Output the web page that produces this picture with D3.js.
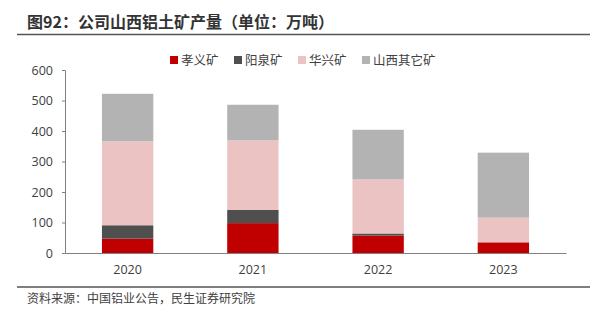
<!DOCTYPE html>
<html><head><meta charset="utf-8">
<script src="https://cdn.jsdelivr.net/npm/d3@7"></script>
<style>body{margin:0;background:#fff;}svg{display:block;font-family:"Noto Sans CJK SC","Noto Sans",sans-serif;}</style>
</head><body><div id="chart"></div>
<script>
const years = ["2020","2021","2022","2023"];
const seriesNames = ["孝义矿","阳泉矿","华兴矿","山西其它矿"];
const xiaoyi = [47, 98, 57, 35];
const yangquan = [44, 43, 7, 0];
const huaxing = [275, 228, 177, 81];
const others = [156, 117, 163, 213];
const yTicks = [0,100,200,300,400,500,600];
const colors = ["#C00000","#4F4F4F","#ECC3C3","#B3B3B3"];

const W=601,H=325;
const svg=d3.select("#chart").append("svg").attr("width",W).attr("height",H);
const x=d3.scaleBand().domain(years).range([65,566]).paddingInner(0.59).paddingOuter(0.295);
const y=d3.scaleLinear().domain([0,600]).range([253,70]);

// title
svg.append("text").attr("x",27).attr("y",28).attr("font-size",16).attr("font-weight","bold").attr("fill","#333")
  .text("图92：公司山西铝土矿产量（单位：万吨）");
svg.append("line").attr("x1",17).attr("x2",590).attr("y1",34.5).attr("y2",34.5).attr("stroke","#555").attr("stroke-width",1.3);

const table = years.map((yr,i)=>({year:yr,"孝义矿":xiaoyi[i],"阳泉矿":yangquan[i],"华兴矿":huaxing[i],"山西其它矿":others[i]}));
const stack=d3.stack().keys(seriesNames)(table);
svg.append("g").selectAll("g").data(stack).join("g").attr("fill",(d,i)=>colors[i])
  .selectAll("rect").data(d=>d).join("rect")
  .attr("x",d=>x(d.data.year)).attr("width",x.bandwidth())
  .attr("y",d=>y(d[1])).attr("height",d=>y(d[0])-y(d[1]));

// y axis
const ya=svg.append("g").attr("transform","translate(65,0)").call(d3.axisLeft(y).tickValues(yTicks).tickSize(3).tickPadding(9));
ya.select(".domain").attr("stroke","#808080");
ya.selectAll(".tick line").attr("stroke","#808080");
ya.selectAll("text").attr("font-size",12.5).attr("fill","#404040").attr("font-family","'Open Sans','Noto Sans',sans-serif");

// x axis
const xa=svg.append("g").attr("transform","translate(0,253)").call(d3.axisBottom(x).tickSize(0).tickPadding(12));
xa.select(".domain").attr("stroke","#808080").attr("stroke-width",1.2);
xa.selectAll("text").attr("font-size",12.5).attr("fill","#404040").attr("font-family","'Open Sans','Noto Sans',sans-serif");

// legend
const lx=[170,234,298,362];
const lg=svg.append("g").selectAll("g").data(seriesNames).join("g").attr("transform",(d,i)=>`translate(${lx[i]},60)`);
lg.append("rect").attr("x",0).attr("y",-4).attr("width",8).attr("height",8).attr("fill",(d,i)=>colors[i]);
lg.append("text").attr("x",11).attr("y",4.5).attr("font-size",12.5).attr("fill","#404040").text(d=>d);

// bottom
svg.append("line").attr("x1",17).attr("x2",590).attr("y1",287).attr("y2",287).attr("stroke","#555").attr("stroke-width",1.3);
svg.append("text").attr("x",27).attr("y",303).attr("font-size",12).attr("fill","#404040").text("资料来源：中国铝业公告，民生证券研究院");
</script></body></html>
